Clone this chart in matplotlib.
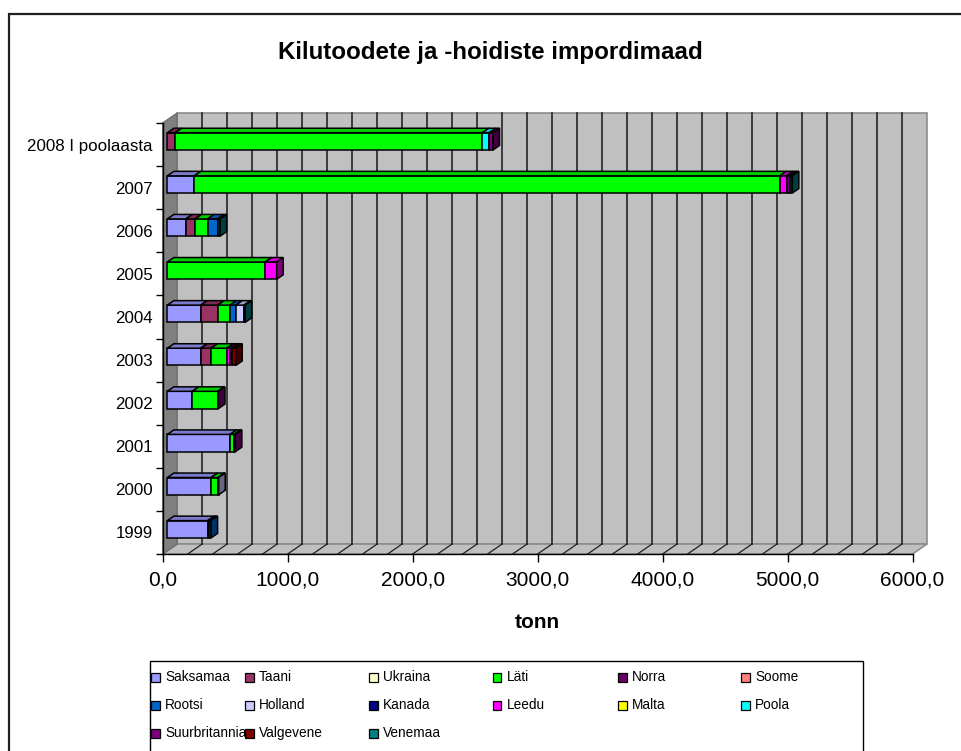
import matplotlib.pyplot as plt
from matplotlib.patches import Polygon, Rectangle
from matplotlib.colors import to_rgb

plt.rcParams['font.family'] = ['Liberation Sans', 'DejaVu Sans']

years = ["1999", "2000", "2001", "2002", "2003", "2004", "2005", "2006",
         "2007", "2008 I poolaasta"]

countries = ["Saksamaa", "Taani", "Ukraina", "Läti", "Norra", "Soome",
             "Rootsi", "Holland", "Kanada", "Leedu", "Malta", "Poola",
             "Suurbritannia", "Valgevene", "Venemaa"]

colors = ["#9999FF", "#993366", "#FFFFCC", "#00FF00", "#660066", "#FF8080",
          "#0066CC", "#CCCCFF", "#000080", "#FF00FF", "#FFFF00", "#00FFFF",
          "#800080", "#800000", "#008080"]

# tonnes per year, 1999 ... 2008 first half
saksamaa = [323, 350, 502, 200, 267, 267, 0, 147, 216, 0]
taani = [12, 0, 0, 0, 83, 136, 0, 75, 0, 62]
ukraina = [0, 0, 0, 0, 0, 0, 0, 0, 0, 0]
lati = [0, 53, 32, 203, 125, 98, 782, 100, 4686, 2458]
norra = [0, 0, 0, 0, 0, 0, 0, 0, 0, 0]
soome = [0, 0, 0, 0, 0, 0, 0, 0, 0, 0]
rootsi = [15, 0, 0, 0, 0, 48, 0, 80, 0, 0]
holland = [0, 8, 0, 0, 0, 64, 0, 0, 0, 0]
kanada = [0, 0, 0, 0, 0, 0, 0, 0, 0, 0]
leedu = [0, 0, 0, 0, 27, 0, 93, 0, 53, 0]
malta = [0, 0, 0, 0, 0, 0, 0, 0, 0, 0]
poola = [0, 0, 0, 0, 0, 0, 0, 0, 0, 56]
suurbritannia = [0, 0, 10, 6, 15, 0, 0, 0, 26, 30]
valgevene = [0, 0, 0, 0, 30, 0, 0, 0, 0, 0]
venemaa = [0, 0, 0, 0, 0, 10, 0, 20, 20, 0]

series = [saksamaa, taani, ukraina, lati, norra, soome, rootsi, holland,
          kanada, leedu, malta, poola, suurbritannia, valgevene, venemaa]

W, H = 961, 751


def shade(c, f):
    r, g, b = to_rgb(c)
    return (r * f, g * f, b * f)


fig = plt.figure(figsize=(W / 100, H / 100), dpi=100)
ax = fig.add_axes([162.7 / W, 1 - 554 / H, 749.8 / W, 431 / H])
ax.set_xlim(0, 6000)
ax.set_ylim(-0.5, 9.5)
ax.patch.set_visible(False)

# depth of the 3d box in data units
DX, DY = 116.0, 0.232
ox, oy = 0.32 * DX, 0.32 * DY
bx, by = 0.45 * DX, 0.45 * DY
half = 0.2

# walls and floor
ax.add_patch(Rectangle((DX, -0.5 + DY), 6000, 10, fc="#C0C0C0",
                       ec="#8C8C8C", lw=1.2, clip_on=False, zorder=0))
ax.add_patch(Polygon([(0, -0.5), (6000, -0.5), (6000 + DX, -0.5 + DY),
                      (DX, -0.5 + DY)], closed=True, fc="#C0C0C0",
                     ec="#8C8C8C", lw=1.2, clip_on=False, zorder=0))
ax.add_patch(Polygon([(0, -0.5), (DX, -0.5 + DY), (DX, 9.5 + DY),
                      (0, 9.5)], closed=True, fc="#808080", ec="#707070",
                     lw=1.0, clip_on=False, zorder=0))
for g in range(200, 6000, 200):
    ax.plot([g + DX, g + DX], [-0.5 + DY, 9.5 + DY], color="#303030",
            lw=1.3, clip_on=False, zorder=1)
    ax.plot([g, g + DX], [-0.5, -0.5 + DY], color="#202020", lw=0.9,
            clip_on=False, zorder=1)

# stacked 3d bars
for i in range(len(years)):
    left = 0
    last = None
    for j, vals in enumerate(series):
        v = vals[i]
        if v <= 0:
            continue
        c = colors[j]
        x0 = left + ox
        y0 = i - half + oy
        ax.add_patch(Rectangle((x0, y0), v, 2 * half, fc=c, ec="black",
                               lw=1.1, clip_on=False, zorder=3))
        ax.add_patch(Polygon([(x0, y0 + 2 * half), (x0 + v, y0 + 2 * half),
                              (x0 + v + bx, y0 + 2 * half + by),
                              (x0 + bx, y0 + 2 * half + by)], closed=True,
                             fc=shade(c, 0.8), ec="black", lw=1.1,
                             clip_on=False, zorder=3))
        left += v
        last = c
    if last is not None:
        xr = left + ox
        y0 = i - half + oy
        ax.add_patch(Polygon([(xr, y0), (xr + bx, y0 + by),
                              (xr + bx, y0 + 2 * half + by),
                              (xr, y0 + 2 * half)], closed=True,
                             fc=shade(last, 0.5), ec="black", lw=1.1,
                             clip_on=False, zorder=3))

# axes
for s in ["top", "right"]:
    ax.spines[s].set_visible(False)
for s in ["left", "bottom"]:
    ax.spines[s].set_color("black")
    ax.spines[s].set_linewidth(1.0)
    ax.spines[s].set_zorder(2)

xt = list(range(0, 6001, 1000))
ax.set_xticks(xt)
ax.set_xticklabels([f"{v:.1f}".replace(".", ",") for v in xt], fontsize=15)
ax.tick_params(axis="x", length=5.5, width=1.0, pad=6.5)

ax.set_yticks([b - 0.5 for b in range(len(years) + 1)])
ax.set_yticklabels([])
ax.tick_params(axis="y", which="major", length=4.8, width=1.0)
ax.set_yticks(range(len(years)), minor=True)
ax.set_yticklabels(years, minor=True, fontsize=12.2)
ax.tick_params(axis="y", which="minor", length=0, pad=7)

fig.text(490 / W, 1 - 52 / H, "Kilutoodete ja -hoidiste impordimaad",
         ha="center", va="center", fontsize=17.4, fontweight="bold")
fig.text(537 / W, 1 - 622 / H, "tonn", ha="center", va="center",
         fontsize=15, fontweight="bold")

# chart border (left and top edges)
fig.add_artist(Rectangle((8.5 / W, -0.2), 1.5, 1.2 - 13.5 / H,
                         transform=fig.transFigure, fill=False,
                         ec="#202020", lw=1.6))

# legend
fig.add_artist(Rectangle((150 / W, -0.2), 713 / W, 0.2 + 1 - 661 / H,
                         transform=fig.transFigure, fill=False,
                         ec="black", lw=1.0))
col_x = [155, 249, 373, 497, 622, 745]
row_y = [677, 705, 733]
for k, name in enumerate(countries):
    cx = col_x[k % 6]
    cy = row_y[k // 6]
    fig.add_artist(Rectangle(((cx - 4.5) / W, 1 - (cy + 4.5) / H), 9 / W,
                             9 / H, transform=fig.transFigure, fc=colors[k],
                             ec="black", lw=0.9))
    fig.text((cx + 10) / W, 1 - cy / H, name, ha="left", va="center",
             fontsize=9.8)

fig.savefig("out.png", dpi=100)
